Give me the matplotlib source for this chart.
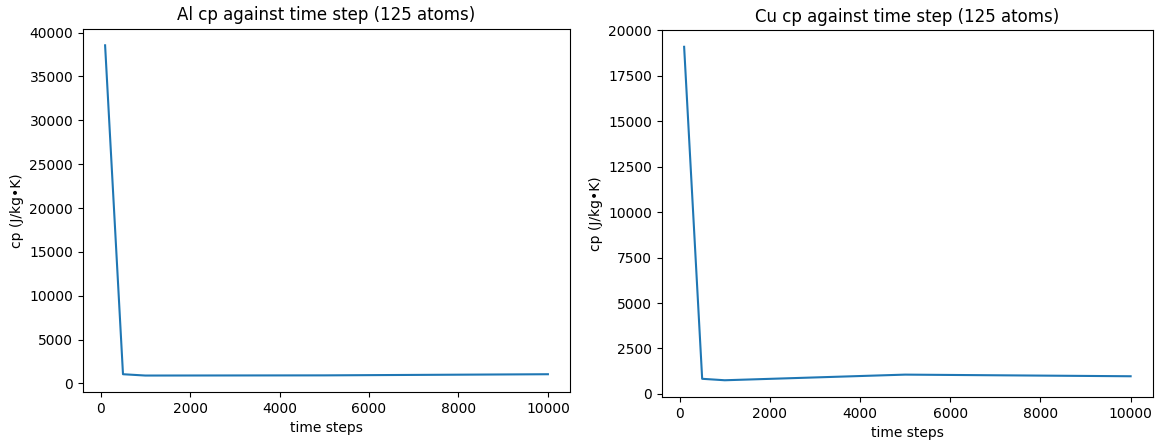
import matplotlib.pyplot as plt

# time steps used in the runs
steps = [100, 500, 1000, 5000, 10000]

# heat capacity results, J/(kg K)
al_cp = [38550, 1050, 900, 920, 1050]
cu_cp = [19100, 830, 750, 1060, 970]


def plot_cp(ax, cp, element):
    """cp against time step for one element"""
    ax.plot(steps, cp)
    ax.set_title(f'{element} cp against time step (125 atoms)')
    ax.set_xlabel('time steps')
    ax.set_ylabel('cp (J/kg\u2022K)')


fig = plt.figure(figsize=(11.57, 4.43), dpi=100)
ax1 = fig.add_axes([0.0717, 0.115, 0.421, 0.82])
ax2 = fig.add_axes([0.572, 0.104, 0.4245, 0.828])
plot_cp(ax1, al_cp, 'Al')
plot_cp(ax2, cu_cp, 'Cu')
fig.savefig('out.png', dpi=100)
